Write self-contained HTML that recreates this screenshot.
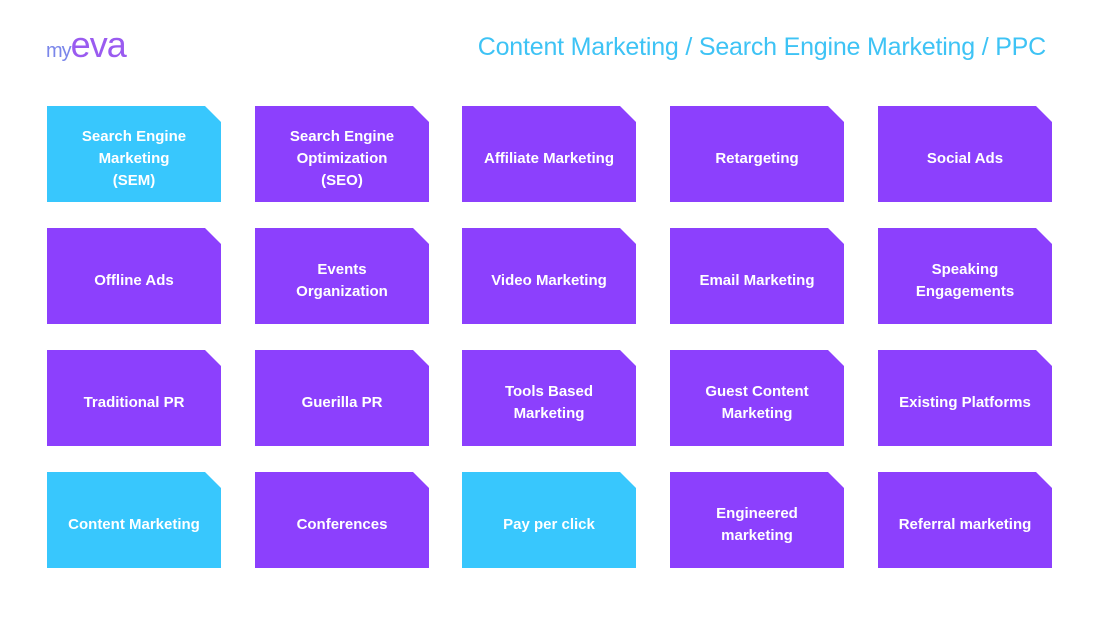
<!DOCTYPE html>
<html><head><style>
body{margin:0;width:1100px;height:618px;background:#fff;position:relative;overflow:hidden;font-family:"Liberation Sans",sans-serif}
.t{position:absolute;width:174px;height:86px;padding-top:10px;background:#8c40fd;clip-path:polygon(0 0,158px 0,174px 16px,174px 96px,0 96px);color:#fff;font-weight:bold;font-size:15px;line-height:22px;display:flex;align-items:center;justify-content:center;text-align:center}
.c{background:#38c7fd}
#title{position:absolute;right:54px;top:33px;font-size:25px;color:#3ec3f5;white-space:nowrap;letter-spacing:-0.2px}
#logo{position:absolute;left:46px;top:24px;color:#9a5bf0;white-space:nowrap}
</style></head><body>
<div id="logo"><span style="font-size:20px;color:#7a86ea;letter-spacing:-1px">my</span><span style="font-size:36px;letter-spacing:-1px">eva</span></div>
<div id="title">Content Marketing / Search Engine Marketing / PPC</div>
<div class="t c" style="left:47px;top:106px">Search Engine<br>Marketing<br>(SEM)</div>
<div class="t" style="left:255px;top:106px">Search Engine<br>Optimization<br>(SEO)</div>
<div class="t" style="left:462px;top:106px">Affiliate Marketing</div>
<div class="t" style="left:670px;top:106px">Retargeting</div>
<div class="t" style="left:878px;top:106px">Social Ads</div>
<div class="t" style="left:47px;top:228px">Offline Ads</div>
<div class="t" style="left:255px;top:228px">Events<br>Organization</div>
<div class="t" style="left:462px;top:228px">Video Marketing</div>
<div class="t" style="left:670px;top:228px">Email Marketing</div>
<div class="t" style="left:878px;top:228px">Speaking<br>Engagements</div>
<div class="t" style="left:47px;top:350px">Traditional PR</div>
<div class="t" style="left:255px;top:350px">Guerilla PR</div>
<div class="t" style="left:462px;top:350px">Tools Based<br>Marketing</div>
<div class="t" style="left:670px;top:350px">Guest Content<br>Marketing</div>
<div class="t" style="left:878px;top:350px">Existing Platforms</div>
<div class="t c" style="left:47px;top:472px">Content Marketing</div>
<div class="t" style="left:255px;top:472px">Conferences</div>
<div class="t c" style="left:462px;top:472px">Pay per click</div>
<div class="t" style="left:670px;top:472px">Engineered<br>marketing</div>
<div class="t" style="left:878px;top:472px">Referral marketing</div>
</body></html>
